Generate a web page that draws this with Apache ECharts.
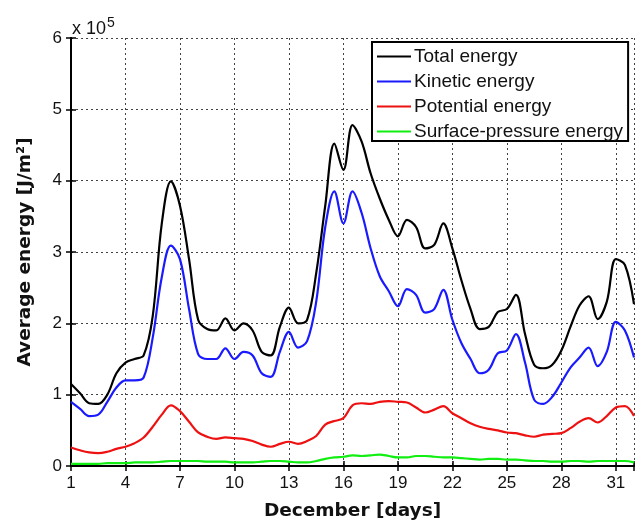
<!DOCTYPE html>
<html>
<head>
<meta charset="utf-8">
<script src="https://cdn.jsdelivr.net/npm/echarts@6/dist/echarts.min.js"></script>
<style>html,body{margin:0;padding:0;background:#fff;}#c{width:638px;height:526px;}</style>
</head>
<body>
<div id="c"></div>
<script>
// Day of December (x), sampled every half day
var days = [1,1.5,2,2.5,3,3.5,4,4.5,5,5.5,6,6.5,7,7.5,8,8.5,9,9.5,10,10.5,11,11.5,12,12.5,13,13.5,14,14.5,15,15.5,16,16.5,17,17.5,18,18.5,19,19.5,20,20.5,21,21.5,22,22.5,23,23.5,24,24.5,25,25.5,26,26.5,27,27.5,28,28.5,29,29.5,30,30.5,31,31.5,32];
// Values in units of 1e5 J/m^2
var totalEnergy = [1.15,1.02,0.88,0.87,1.0,1.3,1.45,1.5,1.55,2.1,3.4,3.99,3.65,2.9,2.05,1.92,1.9,2.07,1.9,2.0,1.9,1.6,1.55,1.95,2.22,2.0,2.05,2.7,3.65,4.52,4.15,4.78,4.55,4.1,3.75,3.45,3.22,3.45,3.35,3.05,3.1,3.4,3.05,2.6,2.2,1.92,1.95,2.16,2.2,2.4,1.85,1.42,1.37,1.42,1.62,1.95,2.25,2.38,2.06,2.3,2.9,2.82,2.27];
var kineticEnergy = [0.9,0.8,0.7,0.72,0.9,1.1,1.2,1.2,1.24,1.8,2.65,3.09,2.9,2.2,1.57,1.5,1.5,1.65,1.5,1.6,1.55,1.3,1.25,1.6,1.88,1.66,1.75,2.3,3.35,3.85,3.4,3.85,3.55,3.05,2.66,2.45,2.24,2.48,2.4,2.15,2.2,2.47,2.05,1.72,1.5,1.3,1.35,1.58,1.62,1.85,1.45,0.93,0.87,0.97,1.17,1.38,1.52,1.66,1.4,1.6,2.02,1.9,1.52];
var potentialEnergy = [0.26,0.22,0.19,0.18,0.2,0.24,0.27,0.32,0.4,0.55,0.72,0.85,0.77,0.62,0.47,0.41,0.38,0.4,0.39,0.38,0.35,0.3,0.27,0.31,0.34,0.31,0.35,0.42,0.58,0.63,0.67,0.85,0.88,0.87,0.9,0.91,0.9,0.89,0.82,0.75,0.79,0.84,0.74,0.67,0.6,0.55,0.52,0.5,0.47,0.46,0.43,0.41,0.44,0.45,0.46,0.53,0.62,0.67,0.61,0.7,0.82,0.84,0.7];
var surfaceEnergy = [0.03,0.03,0.03,0.03,0.04,0.04,0.04,0.05,0.05,0.05,0.06,0.07,0.07,0.07,0.07,0.06,0.06,0.06,0.05,0.05,0.05,0.06,0.07,0.07,0.06,0.05,0.05,0.07,0.1,0.12,0.13,0.15,0.14,0.15,0.16,0.14,0.12,0.12,0.14,0.14,0.13,0.12,0.12,0.11,0.1,0.09,0.1,0.1,0.09,0.09,0.08,0.07,0.07,0.06,0.06,0.07,0.07,0.06,0.07,0.07,0.07,0.07,0.05];
var seriesNames = ['Total energy','Kinetic energy','Potential energy','Surface-pressure energy'];
var seriesColors = ['#000000','#1a1aff','#ee1111','#11ee11'];
var xTickLabels = ['1','4','7','10','13','16','19','22','25','28','31'];
var yTickLabels = ['0','1','2','3','4','5','6'];

var FONT = 'Liberation Sans, Arial, sans-serif';
var TFONT = 'DejaVu Sans, Liberation Sans, sans-serif';
function pairs(vals){ return days.map(function(d,i){ return [d-1, vals[i]]; }); }
var allVals = [totalEnergy, kineticEnergy, potentialEnergy, surfaceEnergy];

var axisLineStyle = {color:'#000', width:2};
var chart = echarts.init(document.getElementById('c'));
var series = [];
for (var k = 3; k >= 0; k--) {
  series.push({
    name: seriesNames[k], type:'line', data: pairs(allVals[k]),
    showSymbol:false, symbol:'none', smooth:0.35,
    lineStyle:{color:seriesColors[k], width:2.2}, itemStyle:{color:seriesColors[k]},
    z: 10 - k
  });
}
chart.setOption({
  animation:false,
  backgroundColor:'#fff',
  grid:{left:71, right:4, top:38, bottom:59},
  legend:{
    data: seriesNames, orient:'vertical', left:372, top:42,
    icon:'rect', itemWidth:34, itemHeight:2, itemGap:6,
    padding:[5,5,0,5], borderColor:'#000', borderWidth:2, backgroundColor:'#fff',
    textStyle:{fontFamily:FONT, fontSize:19, color:'#111', padding:[0,0,0,-2]}
  },
  xAxis:[{
    type:'value', min:0, max:31, interval:3, position:'bottom',
    name:'December [days]', nameLocation:'middle', nameGap:36,
    nameTextStyle:{fontFamily:TFONT, fontSize:18.5, fontWeight:'bold', color:'#111'},
    axisLine:{show:true, lineStyle:axisLineStyle},
    axisTick:{show:true, inside:true, length:5, lineStyle:{color:'#000', width:1.5}},
    axisLabel:{fontFamily:FONT, fontSize:17, color:'#111', margin:9,
      formatter:function(v){ var i = Math.round(v/3); return (v<=30 && Math.abs(v-3*i)<1e-6) ? xTickLabels[i] : ''; }},
    splitLine:{show:true, lineStyle:{color:'#444', type:[2,3], width:1}}
  },{
    type:'value', min:0, max:31, interval:3, position:'top',
    axisLine:{show:true, lineStyle:axisLineStyle},
    axisTick:{show:true, inside:true, length:5, lineStyle:{color:'#000', width:1.5}},
    axisLabel:{show:false}, splitLine:{show:false}
  }],
  yAxis:[{
    type:'value', min:0, max:6, interval:1, position:'left',
    name:'Average energy [J/m²]', nameLocation:'middle', nameGap:36,
    nameTextStyle:{fontFamily:TFONT, fontSize:18.5, fontWeight:'bold', color:'#111'},
    axisLine:{show:true, lineStyle:axisLineStyle},
    axisTick:{show:true, inside:true, length:5, lineStyle:{color:'#000', width:1.5}},
    axisLabel:{fontFamily:FONT, fontSize:17, color:'#111', margin:9,
      formatter:function(v){ return yTickLabels[Math.round(v)]; }},
    splitLine:{show:true, lineStyle:{color:'#444', type:[2,3], width:1}}
  },{
    type:'value', min:0, max:6, interval:1, position:'right',
    axisLine:{show:true, lineStyle:axisLineStyle},
    axisTick:{show:true, inside:true, length:5, lineStyle:{color:'#000', width:1.5}},
    axisLabel:{show:false}, splitLine:{show:false}
  }],
  graphic:[{
    type:'text', left:72, top:16,
    style:{text:'x 10{s|5}', fontFamily:FONT, fontSize:18, fill:'#111',
      rich:{s:{fontSize:14, verticalAlign:'top', padding:[0,0,12,1], fontFamily:FONT, fill:'#111'}}}
  }],
  series: series
});
</script>
</body>
</html>
